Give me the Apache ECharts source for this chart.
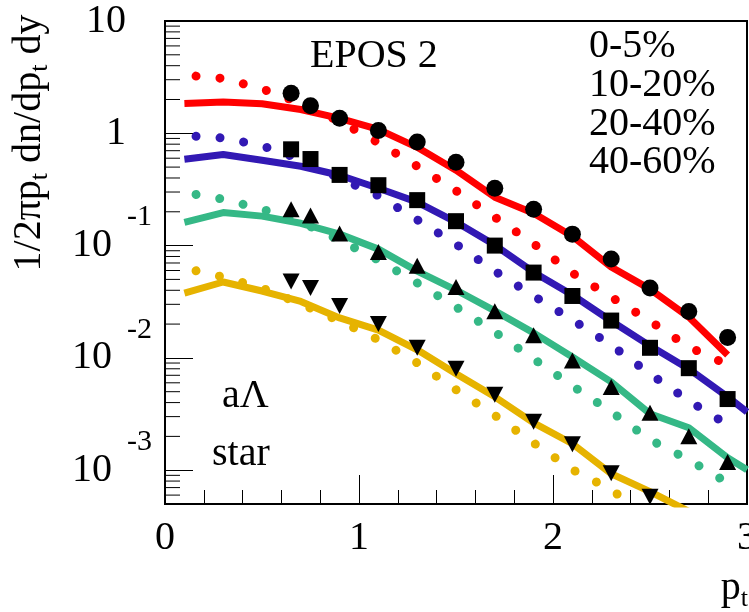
<!DOCTYPE html>
<html>
<head>
<meta charset="utf-8">
<script src="https://cdn.jsdelivr.net/npm/echarts@6/dist/echarts.min.js"></script>
<style>
html,body{margin:0;padding:0;background:#fff;}
#chart{width:749px;height:612px;}
</style>
</head>
<body>
<div id="chart"></div>
<script>
// ---------- data ----------
const markerX = [0.65, 0.75, 0.9, 1.1, 1.3, 1.5, 1.7, 1.9, 2.1, 2.3, 2.5, 2.7, 2.9];
const star0_5   = [2.27, 1.76, 1.36, 1.06, 0.836, 0.552, 0.324, 0.211, 0.1265, 0.0759, 0.0419, 0.0259, 0.0152];
const star10_20 = [0.72, 0.59, 0.426, 0.345, 0.254, 0.165, 0.100, 0.0575, 0.0356, 0.0215, 0.0123, 0.0081, 0.0043];
const star20_40 = [0.211, 0.185, 0.128, 0.0875, 0.066, 0.0428, 0.026, 0.0159, 0.0095, 0.0055, 0.00325, 0.00201, 0.00118];
const star40_60 = [0.048, 0.042, 0.029, 0.020, 0.0123, 0.0080, 0.0047, 0.0027, 0.00170, 0.00094, 0.00058];

const solidX = [0.1, 0.3, 0.5, 0.7, 0.9, 1.1, 1.3, 1.5, 1.7, 1.9, 2.1, 2.3, 2.5, 2.7, 2.9, 3.0];
const eposSolid0_5   = [1.84, 1.90, 1.83, 1.63, 1.36, 1.085, 0.75, 0.469, 0.27, 0.194, 0.121, 0.0644, 0.041, 0.0231, 0.0106];
const eposSolid10_20 = [0.587, 0.647, 0.575, 0.509, 0.423, 0.324, 0.244, 0.162, 0.101, 0.058, 0.0363, 0.0213, 0.0128, 0.00798, 0.0045, 0.0033];
const eposSolid20_40 = [0.161, 0.197, 0.183, 0.158, 0.1265, 0.093, 0.0593, 0.0402, 0.0262, 0.0167, 0.0102, 0.00612, 0.00318, 0.00239, 0.00129, 0.00101];
const eposSolid40_60 = [0.0378, 0.0474, 0.0394, 0.0318, 0.0227, 0.0177, 0.0118, 0.00721, 0.0045, 0.00264, 0.00172, 0.00093, 0.000644, 0.00043];

const dotX = [0.16, 0.3, 0.5, 0.7, 0.9, 1.1, 1.3, 1.5, 1.7, 1.9, 2.1, 2.3, 2.5, 2.7, 2.9, 2.95];
const dotXYellow = [0.16, 0.3, 0.5, 0.7, 0.9, 1.1, 1.3, 1.5, 1.7, 1.9, 2.1, 2.3, 2.35];
const eposDot0_5   = [3.23, 3.08, 2.49, 1.85, 1.28, 0.824, 0.509, 0.308, 0.179, 0.104, 0.057, 0.0348, 0.0213, 0.0125, 0.0087, 0.0078];
const eposDot10_20 = [0.94, 0.908, 0.774, 0.587, 0.398, 0.278, 0.170, 0.103, 0.0593, 0.0356, 0.0218, 0.0130, 0.00721, 0.00415, 0.00254, 0.0022];
const eposDot20_40 = [0.285, 0.259, 0.211, 0.162, 0.112, 0.0743, 0.0465, 0.0284, 0.017, 0.0098, 0.00564, 0.00331, 0.00187, 0.00124, 0.000774, 0.000657];
const eposDot40_60 = [0.0597, 0.0525, 0.0419, 0.0302, 0.0213, 0.0145, 0.00903, 0.0052, 0.00308, 0.00175, 0.00101, 0.000671, 0.00058];

const yMinorTicks = [0.0006, 0.0007, 0.0008, 0.0009,
  0.002, 0.003, 0.004, 0.005, 0.006, 0.007, 0.008, 0.009,
  0.02, 0.03, 0.04, 0.05, 0.06, 0.07, 0.08, 0.09,
  0.2, 0.3, 0.4, 0.5, 0.6, 0.7, 0.8, 0.9,
  2, 3, 4, 5, 6, 7, 8, 9];
const centralityLabels = ['0-5%', '10-20%', '20-40%', '40-60%'];
const colors = ['#ff0000', '#3219b4', '#35b886', '#e6b300'];

// ---------- helpers ----------
const FONT = "'Liberation Serif', 'Times New Roman', serif";
function pairs(xs, ys) { return ys.map((v, i) => [xs[i], v]); }

function solid(xs, ys, c) {
  return { type: 'line', data: pairs(xs, ys), showSymbol: false, symbol: 'none', z: 3,
    lineStyle: { color: c, width: 7, join: 'round' }, silent: true, animation: false };
}
function dotted(xs, ys, c) {
  return { type: 'line', data: pairs(xs, ys), showSymbol: false, symbol: 'none', z: 4,
    lineStyle: { color: c, width: 9, type: [0.01, 24], cap: 'round' }, silent: true, animation: false };
}
function markers(ys, sym, size, rot) {
  return { type: 'scatter', data: pairs(markerX, ys), symbol: sym, symbolSize: size, symbolRotate: rot || 0, z: 6,
    itemStyle: { color: '#000', opacity: 1 }, silent: true, animation: false };
}

const chart = echarts.init(document.getElementById('chart'), null, { renderer: 'canvas' });

const option = {
  animation: false,
  backgroundColor: '#fff',
  grid: { left: 165, right: 2, top: 21, bottom: 108, containLabel: false, outerBoundsMode: 'none',
          show: true, borderColor: '#000', borderWidth: 2, backgroundColor: 'transparent' },
  xAxis: {
    type: 'value', min: 0, max: 3, interval: 1,
    axisLine: { show: true, lineStyle: { color: '#000', width: 2 } },
    axisTick: { show: true, inside: true, length: 29, lineStyle: { color: '#000', width: 1 } },
    minorTick: { show: true, splitNumber: 5, length: 14, lineStyle: { color: '#000', width: 1 } },
    splitLine: { show: false },
    axisLabel: { color: '#000', fontFamily: FONT, fontSize: 40, margin: 14, showMaxLabel: true, showMinLabel: true, hideOverlap: false }
  },
  yAxis: {
    type: 'log', logBase: 10, min: 0.0005, max: 10,
    axisLine: { show: true, lineStyle: { color: '#000', width: 2 } },
    axisTick: { show: true, inside: true, length: 28, lineStyle: { color: '#000', width: 1 } },
    splitLine: { show: false },
    axisLabel: {
      color: '#000', fontFamily: FONT, margin: 13, showMinLabel: true, showMaxLabel: true,
      formatter: function (v) {
        const l = Math.log10(v);
        const e = Math.round(l);
        if (Math.abs(l - e) > 1e-6) return '';
        if (e === 0) return '{m|1}';
        if (e === 1) return '{m|10}';
        return '{b|10}{e|' + e + '}';
      },
      rich: {
        m: { fontFamily: FONT, fontSize: 40, color: '#000', padding: [0, 26, 0, 0], verticalAlign: 'middle' },
        b: { fontFamily: FONT, fontSize: 40, color: '#000', verticalAlign: 'middle', lineHeight: 40 },
        e: { fontFamily: FONT, fontSize: 30, color: '#000', verticalAlign: 'middle', lineHeight: 30, padding: [0, 0, 56, 15] }
      }
    }
  },
  graphic: [
    { type: 'text', x: 310, y: 56, style: { text: 'EPOS 2', font: '40px ' + FONT, fill: '#000', align: 'left', verticalAlign: 'middle' } },
    { type: 'text', x: 589, y: 46, style: { text: centralityLabels[0], font: '40px ' + FONT, fill: '#000', align: 'left', verticalAlign: 'middle' } },
    { type: 'text', x: 589, y: 85, style: { text: centralityLabels[1], font: '40px ' + FONT, fill: '#000', align: 'left', verticalAlign: 'middle' } },
    { type: 'text', x: 589, y: 124, style: { text: centralityLabels[2], font: '40px ' + FONT, fill: '#000', align: 'left', verticalAlign: 'middle' } },
    { type: 'text', x: 589, y: 162, style: { text: centralityLabels[3], font: '40px ' + FONT, fill: '#000', align: 'left', verticalAlign: 'middle' } },
    { type: 'text', x: 222, y: 396, style: { text: 'aΛ', font: '40px ' + FONT, fill: '#000', align: 'left', verticalAlign: 'middle' } },
    { type: 'text', x: 212, y: 454, style: { text: 'star', font: '40px ' + FONT, fill: '#000', align: 'left', verticalAlign: 'middle' } },
    { type: 'text', x: 748, y: 588, style: {
        text: '{n|p}{s|t}', align: 'right', verticalAlign: 'middle', fill: '#000',
        rich: { n: { fontFamily: FONT, fontSize: 40, verticalAlign: 'middle' },
                s: { fontFamily: FONT, fontSize: 26, verticalAlign: 'middle', padding: [22, 0, 0, 0] } } } },
    { type: 'text', x: 29, y: 143, rotation: Math.PI / 2, style: {
        text: '{n|1/2πp}{s|t}{n| dn/dp}{s|t}{n| dy}', align: 'center', verticalAlign: 'middle', fill: '#000',
        rich: { n: { fontFamily: FONT, fontSize: 40, verticalAlign: 'middle' },
                s: { fontFamily: FONT, fontSize: 26, verticalAlign: 'middle', padding: [22, 0, 0, 0] } } } }
  ],
  series: [
    {
      type: 'custom', data: yMinorTicks.map(v => [0, v]), z: 2, silent: true, clip: false,
      renderItem: function (params, api) {
        const p = api.coord([0, api.value(1)]);
        return { type: 'line', shape: { x1: p[0], y1: p[1], x2: p[0] + 15, y2: p[1] }, style: { stroke: '#000', lineWidth: 1 } };
      }
    },
    solid(solidX, eposSolid0_5, colors[0]),
    solid(solidX, eposSolid10_20, colors[1]),
    solid(solidX, eposSolid20_40, colors[2]),
    solid(solidX, eposSolid40_60, colors[3]),
    dotted(dotX, eposDot0_5, colors[0]),
    dotted(dotX, eposDot10_20, colors[1]),
    dotted(dotX, eposDot20_40, colors[2]),
    dotted(dotXYellow, eposDot40_60, colors[3]),
    markers(star0_5, 'circle', 17),
    markers(star10_20, 'rect', 16),
    markers(star20_40, 'triangle', [17, 16]),
    markers(star40_60, 'triangle', [17, 16], 180)
  ]
};
chart.setOption(option);
</script>
</body>
</html>
